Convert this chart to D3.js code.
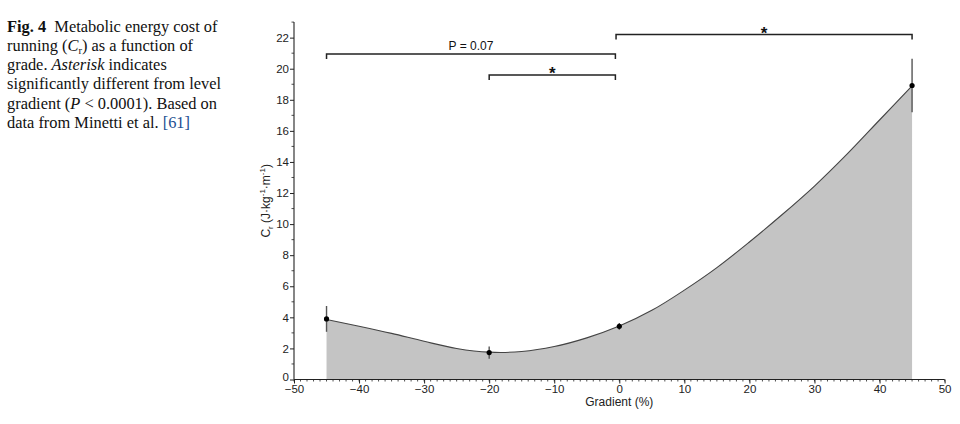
<!DOCTYPE html>
<html><head><meta charset="utf-8">
<script src="https://cdn.jsdelivr.net/npm/d3@7"></script>
<style>
body{margin:0;background:#fff;}
svg{display:block;}
</style></head>
<body>
<svg id="chart" width="960" height="424"></svg>
<script>
// ---- data ----
const gradients = [-45, -20, 0, 45];
const costMeans = [3.9, 1.73, 3.42, 18.92];
const costErrors = [0.83, 0.4, 0.22, 1.72];
const curveX = [-45, -40, -35, -30, -25, -20, -15, -10, -5, 0, 5, 10, 15, 20, 25, 30, 35, 40, 45];
const curveY = [3.86, 3.43, 2.97, 2.46, 2.0, 1.76, 1.8, 2.12, 2.68, 3.44, 4.45, 5.75, 7.2, 8.85, 10.6, 12.45, 14.5, 16.7, 18.9];
const xTicks = [-50, -40, -30, -20, -10, 0, 10, 20, 30, 40, 50];
const yTicks = [0, 2, 4, 6, 8, 10, 12, 14, 16, 18, 20, 22];
const bracketFrom = [-45, -20, -0.5];
const bracketTo = [-0.6, -0.6, 45];
const bracketLevel = [20.95, 19.6, 22.2];
const bracketLabel = ["P = 0.07", "*", "*"];

const svg = d3.select("#chart");
const x = d3.scaleLinear().domain([-50, 50]).range([294, 944.6]);
const y = d3.scaleLinear().domain([0, 23]).range([379.5, 22.1]);
const ink = "#222";
const sans = "'Liberation Sans', Arial, sans-serif";

// ---- caption ----
const cap = svg.append("g").attr("font-family", "'Liberation Serif', 'Times New Roman', serif")
  .attr("font-size", 16.4).attr("fill", "#111");
const capLines = [
  [["Fig. 4", "bold"], ["  Metabolic energy cost of", ""]],
  [["running (", ""], ["C", "italic"], ["r", "sub"], [") as a function of", "after"]],
  [["grade. ", ""], ["Asterisk", "italic"], [" indicates", ""]],
  [["significantly different from level", ""]],
  [["gradient (", ""], ["P", "italic"], [" < 0.0001). Based on", ""]],
  [["data from Minetti et al. ", ""], ["[61]", "link"]]
];
capLines.forEach((parts, i) => {
  const t = cap.append("text").attr("x", 7).attr("y", 31.5 + i * 19.3).attr("xml:space", "preserve");
  parts.forEach(([s, st]) => {
    const ts = t.append("tspan").text(s);
    if (st === "bold") ts.attr("font-weight", "bold");
    if (st === "italic") ts.attr("font-style", "italic");
    if (st === "sub") ts.attr("font-size", 10.5).attr("dy", 3);
    if (st === "after") ts.attr("dy", -3);
    if (st === "link") ts.attr("fill", "#1d4f91");
  });
});

// ---- area & curve ----
const pts = curveX.map((d, i) => [d, curveY[i]]);
const smooth = d3.curveCatmullRom.alpha(0.5);
svg.append("path").datum(pts)
  .attr("d", d3.area().x(d => x(d[0])).y0(y(0)).y1(d => y(d[1])).curve(smooth))
  .attr("fill", "#c4c4c4");
svg.append("path").datum(pts)
  .attr("d", d3.line().x(d => x(d[0])).y(d => y(d[1])).curve(smooth))
  .attr("fill", "none").attr("stroke", "#444").attr("stroke-width", 1.1);

// ---- error bars & points ----
gradients.forEach((g, i) => {
  svg.append("line").attr("x1", x(g)).attr("x2", x(g))
    .attr("y1", y(costMeans[i] - costErrors[i])).attr("y2", y(costMeans[i] + costErrors[i]))
    .attr("stroke", "#555").attr("stroke-width", 1.4);
  svg.append("circle").attr("cx", x(g)).attr("cy", y(costMeans[i])).attr("r", 2.6).attr("fill", "#000");
});

// ---- axes ----
const xAxis = svg.append("g").attr("transform", `translate(0,${y(0)})`)
  .call(d3.axisBottom(x).tickValues(xTicks).tickSize(4).tickSizeOuter(0).tickPadding(1))
  .attr("font-family", sans).attr("font-size", 11.5);
xAxis.append("g").selectAll("line").data(d3.range(-50, 51, 1)).join("line")
  .attr("x1", d => x(d)).attr("x2", d => x(d)).attr("y1", 0).attr("y2", 2).attr("stroke", ink).attr("stroke-width", 0.8);
const yAxis = svg.append("g").attr("transform", `translate(${x(-50)},0)`)
  .call(d3.axisLeft(y).tickValues(yTicks).tickSize(4).tickSizeOuter(0).tickPadding(1))
  .attr("font-family", sans).attr("font-size", 11.5);
yAxis.append("g").selectAll("line").data(d3.range(1, 24, 2)).join("line")
  .attr("x1", 0).attr("x2", -2.5).attr("y1", d => y(d)).attr("y2", d => y(d)).attr("stroke", ink).attr("stroke-width", 0.8);
[xAxis, yAxis].forEach(a => {
  a.selectAll(".domain").attr("stroke", ink).attr("stroke-width", 1.1);
  a.selectAll(".tick line").attr("stroke", ink).attr("stroke-width", 1);
  a.selectAll(".tick text").attr("fill", "#222");
});
xAxis.select(".domain").attr("d", `M${x(-50)},0H${x(50)}`);
yAxis.select(".domain").attr("d", `M0,${y(0)}V${y(23)}`);
yAxis.selectAll(".tick text").filter(d => d === 0).attr("dy", "0.1em");

// ---- axis labels ----
svg.append("text").attr("x", x(0)).attr("y", 406).attr("text-anchor", "middle")
  .attr("font-family", sans).attr("font-size", 12).attr("fill", "#222").text("Gradient (%)");
const yl = svg.append("text").attr("transform", `translate(270,${(y(0) + y(23)) / 2}) rotate(-90)`)
  .attr("text-anchor", "middle").attr("font-family", sans).attr("font-size", 12).attr("fill", "#222");
yl.append("tspan").text("C");
yl.append("tspan").attr("font-size", 8).attr("dy", 2.5).text("r");
yl.append("tspan").attr("dy", -2.5).text(" (J·kg");
yl.append("tspan").attr("font-size", 8).attr("dy", -5).text("-1");
yl.append("tspan").attr("dy", 5).text("·m");
yl.append("tspan").attr("font-size", 8).attr("dy", -5).text("-1");
yl.append("tspan").attr("dy", 5).text(")");

// ---- significance brackets ----
bracketFrom.forEach((f, i) => {
  const yy = y(bracketLevel[i]);
  svg.append("path")
    .attr("d", `M${x(f)},${yy + 5}V${yy}H${x(bracketTo[i])}V${yy + 5}`)
    .attr("fill", "none").attr("stroke", "#222").attr("stroke-width", 1.5);
  const lbl = bracketLabel[i];
  svg.append("text").attr("x", (x(f) + x(bracketTo[i])) / 2)
    .attr("y", lbl === "*" ? yy + 4 : yy - 4)
    .attr("text-anchor", "middle").attr("font-family", sans)
    .attr("font-size", lbl === "*" ? 17 : 12).attr("font-weight", lbl === "*" ? "bold" : "normal")
    .attr("fill", "#111").text(lbl);
});
</script>
</body></html>
